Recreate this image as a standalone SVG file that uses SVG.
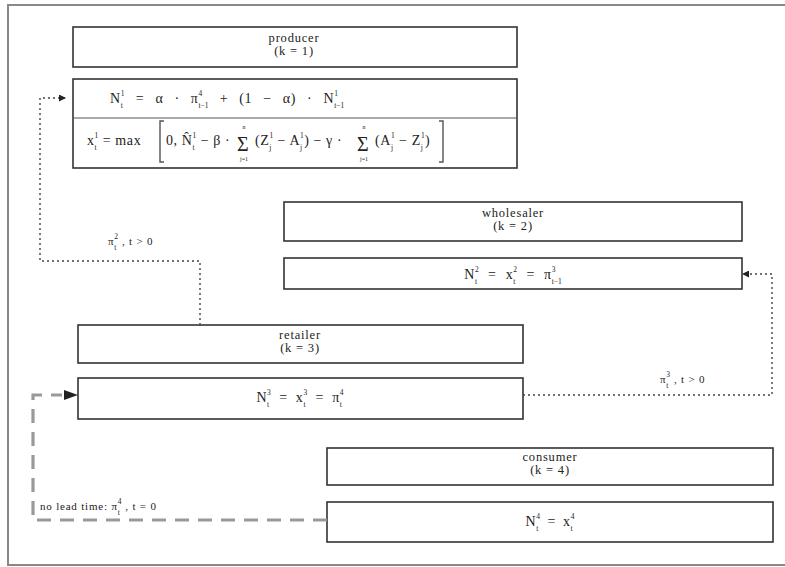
<svg xmlns="http://www.w3.org/2000/svg" width="785" height="567" viewBox="0 0 785 567">
  <style>
    .frame { fill: none; stroke: #888; stroke-width: 2; }
    .box { fill: #fff; stroke: #333; stroke-width: 1.6; }
    .t { font-family: "Liberation Serif", "DejaVu Serif", serif; font-size: 12.5px; letter-spacing: 0.8px; fill: #222; }
    .f { font-family: "Liberation Serif", "DejaVu Serif", serif; font-size: 14px; letter-spacing: 0.6px; fill: #222; }
    .l { font-family: "Liberation Serif", "DejaVu Serif", serif; font-size: 11px; letter-spacing: 0.8px; fill: #222; }
    .s { font-size: 7.5px; letter-spacing: 0; }
    .big { font-family: "Liberation Serif", "DejaVu Serif", serif; font-size: 20px; fill: #222; }
    .lim { font-family: "Liberation Serif", "DejaVu Serif", serif; font-size: 6px; fill: #222; }
    .br { fill: none; stroke: #555; stroke-width: 1.4; }
    .dot { fill: none; stroke: #444; stroke-width: 1.4; stroke-dasharray: 2 3; }
    .dash { fill: none; stroke: #999; stroke-width: 3.2; stroke-dasharray: 14 9; }
  </style>
  <defs>
    <marker id="ah" viewBox="0 0 10 10" refX="10" refY="5" markerWidth="5" markerHeight="5" orient="auto">
      <path d="M0,0 L10,5 L0,10 z" fill="#222"/>
    </marker>
  </defs>

  <rect width="785" height="567" fill="#fff"/>
  <path class="frame" d="M786,5 H8 V565 H786"/>

  <!-- producer -->
  <g id="producer">
    <rect class="box" x="73" y="27" width="444" height="40"/>
    <text class="t" x="294" y="42" text-anchor="middle">producer</text>
    <text class="t" x="294" y="55" text-anchor="middle">(k = 1)</text>
  </g>
  <g id="producer-rules">
    <rect class="box" x="73" y="79" width="444" height="89"/>
    <line x1="73" y1="118" x2="517" y2="118" stroke="#555" stroke-width="1"/>
    <text class="f" x="110" y="103" word-spacing="7">N<tspan class="s" dy="-7">1</tspan><tspan class="s" dx="-3.8" dy="11.5">t</tspan><tspan dx="2" dy="-4.5"> = α · π</tspan><tspan class="s" dy="-7">4</tspan><tspan class="s" dx="-3.8" dy="11.5">t−1</tspan><tspan dy="-4.5"> + (1 − α) · N</tspan><tspan class="s" dy="-7">1</tspan><tspan class="s" dx="-3.8" dy="11.5">t−1</tspan></text>
    <text class="f" x="87" y="145">x<tspan class="s" dy="-7">1</tspan><tspan class="s" dx="-3.8" dy="11.5">t</tspan><tspan dx="2" dy="-4.5"> = max</tspan></text>
    <path class="br" d="M164,121 H160 V162 H164"/>
    <text class="f" x="166" y="145">0, N̂<tspan class="s" dy="-7">1</tspan><tspan class="s" dx="-3.8" dy="11.5">t</tspan><tspan dx="2" dy="-4.5"> − β ·</tspan></text>
    <text class="big" x="237" y="151">Σ</text>
    <text class="lim" x="244" y="129" text-anchor="middle">n</text>
    <text class="lim" x="244" y="161" text-anchor="middle">j=1</text>
    <text class="f" x="255" y="145">(Z<tspan class="s" dy="-7">1</tspan><tspan class="s" dx="-3.8" dy="11.5">j</tspan><tspan dx="2" dy="-4.5"> − A</tspan><tspan class="s" dy="-7">1</tspan><tspan class="s" dx="-3.8" dy="11.5">j</tspan><tspan dx="2" dy="-4.5">) − γ ·</tspan></text>
    <text class="big" x="357" y="151">Σ</text>
    <text class="lim" x="364" y="129" text-anchor="middle">n</text>
    <text class="lim" x="364" y="161" text-anchor="middle">j=1</text>
    <text class="f" x="375" y="145">(A<tspan class="s" dy="-7">1</tspan><tspan class="s" dx="-3.8" dy="11.5">j</tspan><tspan dx="2" dy="-4.5"> − Z</tspan><tspan class="s" dy="-7">1</tspan><tspan class="s" dx="-3.8" dy="11.5">j</tspan><tspan dx="2" dy="-4.5">)</tspan></text>
    <path class="br" d="M439,121 H443 V162 H439"/>
  </g>

  <!-- wholesaler -->
  <g id="wholesaler">
    <rect class="box" x="284" y="202" width="458" height="39"/>
    <text class="t" x="513" y="217" text-anchor="middle">wholesaler</text>
    <text class="t" x="513" y="230" text-anchor="middle">(k = 2)</text>
  </g>
  <g id="wholesaler-rules">
    <rect class="box" x="284" y="258" width="458" height="31"/>
    <text class="f" x="513" y="279" text-anchor="middle" word-spacing="5">N<tspan class="s" dy="-7">2</tspan><tspan class="s" dx="-3.8" dy="11.5">t</tspan><tspan dx="2" dy="-4.5"> = x</tspan><tspan class="s" dy="-7">2</tspan><tspan class="s" dx="-3.8" dy="11.5">t</tspan><tspan dx="2" dy="-4.5"> = π</tspan><tspan class="s" dy="-7">3</tspan><tspan class="s" dx="-3.8" dy="11.5">t−1</tspan></text>
  </g>

  <!-- retailer -->
  <g id="retailer">
    <rect class="box" x="78" y="325" width="445" height="38"/>
    <text class="t" x="300" y="339" text-anchor="middle">retailer</text>
    <text class="t" x="300" y="352" text-anchor="middle">(k = 3)</text>
  </g>
  <g id="retailer-rules">
    <rect class="box" x="78" y="378" width="445" height="41"/>
    <text class="f" x="300" y="402" text-anchor="middle" word-spacing="4">N<tspan class="s" dy="-7">3</tspan><tspan class="s" dx="-3.8" dy="11.5">t</tspan><tspan dx="2" dy="-4.5"> = x</tspan><tspan class="s" dy="-7">3</tspan><tspan class="s" dx="-3.8" dy="11.5">t</tspan><tspan dx="2" dy="-4.5"> = π</tspan><tspan class="s" dy="-7">4</tspan><tspan class="s" dx="-3.8" dy="11.5">t</tspan></text>
  </g>

  <!-- consumer -->
  <g id="consumer">
    <rect class="box" x="327" y="448" width="446" height="37"/>
    <text class="t" x="550" y="461" text-anchor="middle">consumer</text>
    <text class="t" x="550" y="474" text-anchor="middle">(k = 4)</text>
  </g>
  <g id="consumer-rules">
    <rect class="box" x="327" y="502" width="446" height="40"/>
    <text class="f" x="550" y="526" text-anchor="middle" word-spacing="3">N<tspan class="s" dy="-7">4</tspan><tspan class="s" dx="-3.8" dy="11.5">t</tspan><tspan dx="2" dy="-4.5"> = x</tspan><tspan class="s" dy="-7">4</tspan><tspan class="s" dx="-3.8" dy="11.5">t</tspan></text>
  </g>

  <!-- order flows between the tiers -->
  <g id="connectors">
    <path class="dot" d="M200,325 V261 H40 V98 H66" marker-end="url(#ah)"/>
    <text class="l" x="108" y="245">π<tspan class="s" dy="-6">2</tspan><tspan class="s" dx="-3.8" dy="10.5">t</tspan><tspan dx="2" dy="-4.5"> , t &gt; 0</tspan></text>

    <path class="dot" d="M523,395 H772 V274 H742" marker-end="url(#ah)"/>
    <text class="l" x="660" y="383">π<tspan class="s" dy="-6">3</tspan><tspan class="s" dx="-3.8" dy="10.5">t</tspan><tspan dx="2" dy="-4.5"> , t &gt; 0</tspan></text>

    <path class="dash" d="M327,520 H33 V395 H62"/>
    <path d="M64,390 L78,395 L64,400 z" fill="#222"/>
    <text class="l" x="40" y="510">no lead time: π<tspan class="s" dy="-6">4</tspan><tspan class="s" dx="-3.8" dy="10.5">t</tspan><tspan dx="2" dy="-4.5"> , t = 0</tspan></text>
  </g>
</svg>
